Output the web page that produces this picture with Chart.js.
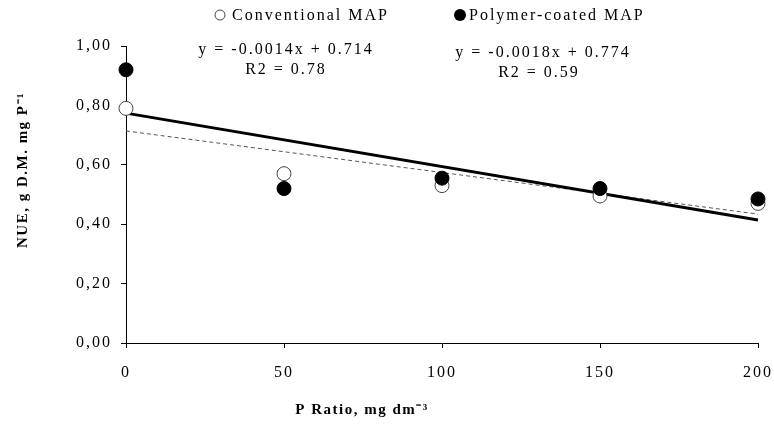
<!DOCTYPE html>
<html>
<head>
<meta charset="utf-8">
<script src="https://cdn.jsdelivr.net/npm/chart.js@4.4.1/dist/chart.umd.min.js"></script>
<style>
  body { margin: 0; background: #fff; }
  #wrap { width: 774px; height: 430px; }
</style>
</head>
<body>
<div id="wrap"><canvas id="graph"></canvas></div>
<script>
var p_ratio = [0, 50, 100, 150, 200];
var nue_conventional = [0.79, 0.57, 0.53, 0.495, 0.47];
var nue_polymer = [0.92, 0.52, 0.555, 0.52, 0.485];

var trend_x = [0, 200];
var trend_conventional = [0.714, 0.434];
var trend_polymer = [0.774, 0.414];

var label_conventional = "Conventional MAP";
var label_polymer = "Polymer-coated MAP";
var eq_conventional = ["y = -0.0014x + 0.714", "R2 = 0.78"];
var eq_polymer = ["y = -0.0018x + 0.774", "R2 = 0.59"];

var serif = "'Liberation Serif', 'Times New Roman', serif";

function toPoints(xs, ys) {
    var pts = [];
    for (let i = 0; i < xs.length; i++) {
        pts.push({ x: xs[i], y: ys[i] });
    }
    return pts;
}

// spacing the letters out, the original text is stretched wide
var spacingPlugin = {
    id: "spacing",
    beforeDraw: function (chart) { chart.ctx.letterSpacing = "2px"; },
    afterDraw: function (chart) { chart.ctx.letterSpacing = "0px"; }
};

var textPlugin = {
    id: "texts",
    afterDraw: function (chart) {
        var ctx = chart.ctx;
        ctx.save();
        ctx.fillStyle = "#000";
        ctx.letterSpacing = "2px";
        ctx.font = "16px " + serif;
        ctx.textBaseline = "middle";

        // legend
        ctx.textAlign = "left";
        ctx.beginPath();
        ctx.arc(220, 15, 5, 0, Math.PI * 2);
        ctx.strokeStyle = "#444";
        ctx.lineWidth = 1;
        ctx.stroke();
        ctx.fillText(label_conventional, 232, 16);
        ctx.beginPath();
        ctx.arc(460, 15, 6, 0, Math.PI * 2);
        ctx.fill();
        ctx.fillText(label_polymer, 469, 16);

        // equations
        ctx.textAlign = "center";
        ctx.fillText(eq_conventional[0], 286, 50);
        ctx.fillText(eq_conventional[1], 286, 70);
        ctx.fillText(eq_polymer[0], 543, 53);
        ctx.fillText(eq_polymer[1], 539, 73);

        // axis titles
        ctx.font = "bold 15px " + serif;
        ctx.letterSpacing = "1.5px";
        ctx.fillText("P Ratio, mg dm\u207B\u00B3", 362, 410);
        ctx.translate(23, 170);
        ctx.rotate(-Math.PI / 2);
        ctx.fillText("NUE, g D.M. mg P\u207B\u00B9", 0, 0);
        ctx.restore();
    }
};

var ctx = document.getElementById("graph").getContext("2d");

var data = {
    datasets: [
        {
            label: label_polymer,
            data: toPoints(p_ratio, nue_polymer),
            backgroundColor: "#000",
            borderColor: "#000",
            pointRadius: 7,
            pointHoverRadius: 7,
            clip: false,
            order: 0
        },
        {
            label: label_conventional,
            data: toPoints(p_ratio, nue_conventional),
            backgroundColor: "#fff",
            borderColor: "#444",
            borderWidth: 1,
            pointRadius: 7,
            pointHoverRadius: 7,
            clip: false,
            order: 1
        },
        {
            label: "trend polymer",
            data: toPoints(trend_x, trend_polymer),
            showLine: true,
            borderColor: "#000",
            borderWidth: 3,
            pointRadius: 0,
            clip: false,
            order: 2
        },
        {
            label: "trend conventional",
            data: toPoints(trend_x, trend_conventional),
            showLine: true,
            borderColor: "#555",
            borderWidth: 1,
            borderDash: [4, 3],
            pointRadius: 0,
            clip: false,
            order: 3
        }
    ]
};

var options = {
    responsive: true,
    maintainAspectRatio: false,
    animation: false,
    layout: { padding: { left: 0, top: 46, right: 16, bottom: 0 } },
    plugins: {
        legend: { display: false },
        tooltip: { enabled: false }
    },
    scales: {
        x: {
            type: "linear",
            min: 0,
            max: 200,
            afterFit: function (scale) {
                scale.height = 87;
                scale.paddingLeft = 0;
                scale.paddingRight = 0;
            },
            ticks: {
                stepSize: 50,
                color: "#000",
                padding: 15,
                font: { family: serif, size: 16 }
            },
            grid: {
                drawOnChartArea: false,
                tickLength: 5,
                color: "#000"
            },
            border: { color: "#000", width: 1 }
        },
        y: {
            min: 0,
            max: 1,
            afterFit: function (scale) {
                scale.width = 126;
                scale.paddingTop = 0;
                scale.paddingBottom = 0;
            },
            ticks: {
                stepSize: 0.2,
                color: "#000",
                padding: 9,
                font: { family: serif, size: 16 },
                callback: function (v) { return v.toFixed(2).replace(".", ","); }
            },
            grid: {
                drawOnChartArea: false,
                tickLength: 5,
                color: "#000"
            },
            border: { color: "#000", width: 1 }
        }
    }
};

var config = {
    type: "scatter",
    data: data,
    options: options,
    plugins: [spacingPlugin, textPlugin]
};

var graph = new Chart(ctx, config);
</script>
</body>
</html>
